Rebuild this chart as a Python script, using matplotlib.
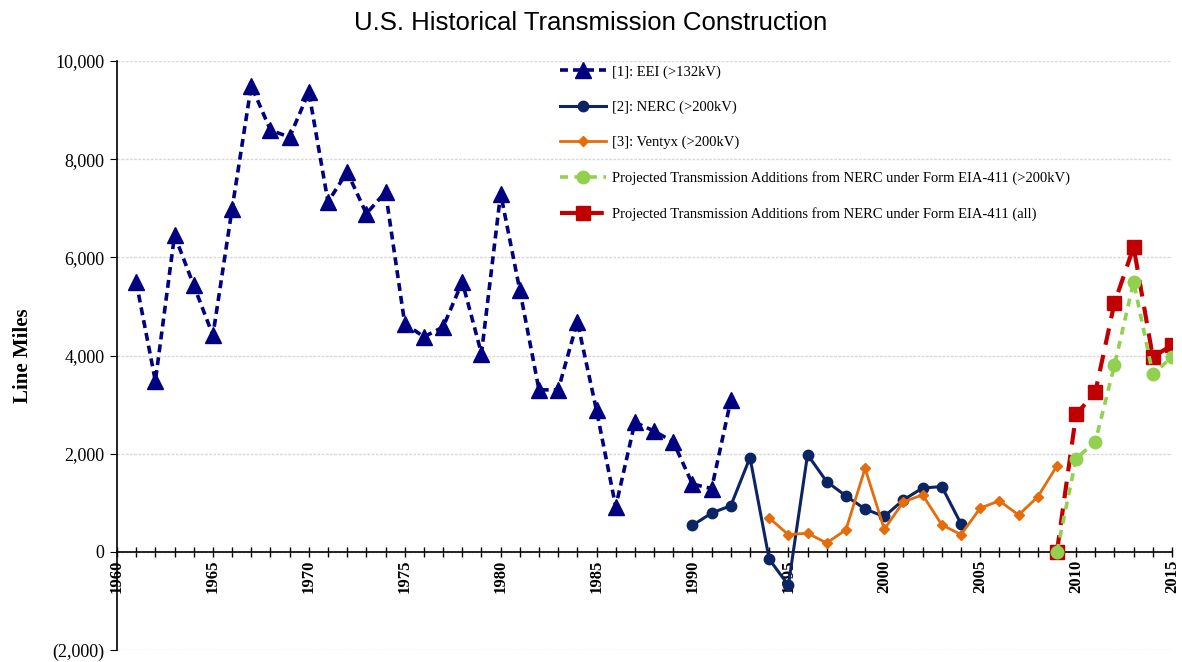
import matplotlib
matplotlib.use("Agg")
import matplotlib.pyplot as plt
from matplotlib.ticker import FuncFormatter, MultipleLocator

# ---- data ----
eei_years = list(range(1961, 1993))
eei_vals = [5500, 3480, 6450, 5430, 4410, 6990, 9500, 8590, 8450, 9370,
            7130, 7740, 6890, 7330, 4650, 4380, 4580, 5500, 4040, 7300,
            5330, 3300, 3300, 4690, 2880, 920, 2640, 2460, 2240, 1380,
            1290, 3090]

nerc_years = list(range(1990, 2005))
nerc_vals = [540, 790, 940, 1920, -150, -680, 1980, 1430, 1140, 870,
             720, 1060, 1300, 1330, 570]

ventyx_years = list(range(1994, 2010))
ventyx_vals = [690, 350, 380, 180, 450, 1700, 460, 1020, 1160, 550,
               350, 890, 1040, 750, 1120, 1750]

proj_years = list(range(2009, 2016))
proj200_vals = [0, 1900, 2240, 3800, 5500, 3620, 3970]
projall_vals = [0, 2800, 3250, 5070, 6210, 3970, 4210]

labels = ["[1]: EEI (>132kV)", "[2]: NERC (>200kV)", "[3]: Ventyx (>200kV)",
          "Projected Transmission Additions from NERC under Form EIA-411 (>200kV)",
          "Projected Transmission Additions from NERC under Form EIA-411 (all)"]
title = "U.S. Historical Transmission Construction"
ylabel = "Line Miles"

serif = ["Liberation Serif", "DejaVu Serif"]

fig = plt.figure(figsize=(11.82, 6.62), dpi=100)
ax = fig.add_axes([117/1182, 12/662, 1055/1182, 589/662])

ax.plot(eei_years, eei_vals, color="#000080", ls=(0, (2.2, 1.4)), lw=2.6,
        marker="^", ms=11, label=labels[0], zorder=3)
ax.plot(nerc_years, nerc_vals, color="#0b2463", ls="-", lw=2.2,
        marker="o", ms=7.5, label=labels[1], zorder=4)
ax.plot(ventyx_years, ventyx_vals, color="#e46c0a", ls="-", lw=2.0,
        marker="D", ms=5, label=labels[2], zorder=4)
ax.plot(proj_years, projall_vals, color="#c00000", ls=(0, (4, 2.5)), lw=3,
        marker="s", ms=10, label=labels[4], zorder=5)
ax.plot(proj_years, proj200_vals, color="#92d050", ls=(0, (2.2, 1.8)), lw=2.6,
        marker="o", ms=9, label=labels[3], zorder=6)

ax.set_xlim(1960, 2015)
ax.set_ylim(-2000, 10000)

ax.spines["top"].set_visible(False)
ax.spines["right"].set_visible(False)
ax.spines["bottom"].set_position(("data", 0))
ax.spines["bottom"].set_linewidth(1.2)
ax.spines["left"].set_linewidth(1.2)

ax.yaxis.set_major_locator(MultipleLocator(2000))
ax.yaxis.set_major_formatter(FuncFormatter(
    lambda v, p: "0" if v == 0 else (f"({abs(int(v)):,})" if v < 0 else f"{int(v):,}")))
ax.xaxis.set_major_locator(MultipleLocator(5))
ax.xaxis.set_minor_locator(MultipleLocator(1))
ax.tick_params(axis="x", which="both", direction="inout", length=7, width=1, pad=2)
ax.tick_params(axis="y", direction="out", length=5, pad=4)
for t in ax.get_xticklabels():
    t.set_rotation(90)
    t.set_fontfamily(serif)
    t.set_fontweight("bold")
    t.set_fontsize(12)
    t.set_va("top")
for t in ax.get_yticklabels():
    t.set_fontfamily(serif)
    t.set_fontsize(13)

ax.grid(axis="y", color="#d9d9d9", ls=(0, (2, 1)), lw=1)
ax.set_axisbelow(True)

ax.set_ylabel(ylabel, fontfamily=serif, fontweight="bold", fontsize=15, labelpad=14)
fig.text(0.5, 0.965, title, ha="center", va="center",
         fontfamily=["Liberation Sans Narrow", "Liberation Sans", "DejaVu Sans"], fontsize=18.5)

h, l = ax.get_legend_handles_labels()
order = [0, 1, 2, 4, 3]
leg = ax.legend([h[i] for i in order], [l[i] for i in order],
                loc="upper left", bbox_to_anchor=(0.407, 1.015), frameon=False,
                prop={"family": serif, "size": 10.5}, labelspacing=1.5,
                handlelength=3.2, handletextpad=0.4)

fig.savefig("out.png", dpi=100)
